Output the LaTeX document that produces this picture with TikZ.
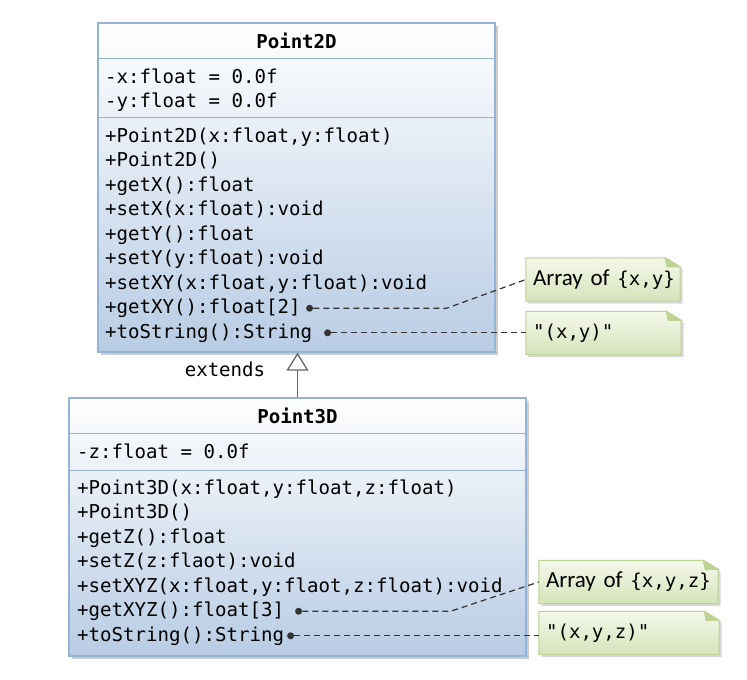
\documentclass[tikz,border=0pt]{standalone}
\usepackage{fontspec}
\setmonofont{DejaVu Sans Mono}
\newfontfamily\notefont{Carlito}
\usetikzlibrary{positioning}
\usetikzlibrary{shadows}
\usetikzlibrary{arrows.meta}
\usetikzlibrary{calc}
\usetikzlibrary{backgrounds}

\definecolor{umlborder}{HTML}{95B3D7}
\definecolor{umlblue}{HTML}{B8CCE4}
\definecolor{notetop}{HTML}{F4F8EA}
\definecolor{notebottom}{HTML}{D6E3BA}
\definecolor{noteborder}{HTML}{BDD293}
\definecolor{linkgray}{HTML}{333333}

\newcommand\umlfont{\ttfamily\fontsize{19.1}{24.5}\selectfont}
\newcommand\drawnote[1]{%
  \path[notepaper] (#1.north west) -- ($(#1.north east)+(-15,0)$)
    -- ($(#1.north east)+(0,9)$) -- (#1.south east) -- (#1.south west) -- cycle;
  \filldraw[notefold] ($(#1.north east)+(-15,0)$) -- ($(#1.north east)+(0,9)$)
    -- ($(#1.north east)+(-13,9)$) -- cycle;
}

\tikzset{
  classbox/.style={draw=umlborder, line width=1.4pt, top color=white,
    bottom color=umlblue, inner sep=0pt,
    drop shadow={shadow xshift=3pt, shadow yshift=-3pt, fill=black!50, opacity=.4}},
  sepline/.style={draw=umlborder, line width=1.4pt},
  member/.style={anchor=base west, inner sep=0pt, font=\umlfont, text=black},
  classname/.style={member, anchor=base, font=\umlfont\bfseries},
  notebox/.style={inner xsep=7pt, inner ysep=0pt, text width=#1, minimum height=43pt,
    align=left, font=\notefont\fontsize{23}{28}\selectfont, text=black},
  notepaper/.style={draw=noteborder, line width=1pt, top color=notetop,
    bottom color=notebottom,
    drop shadow={shadow xshift=2.5pt, shadow yshift=-2.5pt, fill=black!50, opacity=.3}},
  notefold/.style={draw=noteborder, line width=1pt, fill=noteborder},
  dot/.style={circle, fill=linkgray, inner sep=0pt, minimum size=7pt},
  notelink/.style={draw=linkgray, line width=1.2pt, dash pattern=on 6pt off 4pt},
  extendsline/.style={draw=black!60, line width=1.3pt,
    -{Triangle[length=18pt, width=22pt, fill=white]}},
}

\begin{document}
\begin{tikzpicture}[x=1pt, y=-1pt]
  \useasboundingbox (0,0) rectangle (747,680);

  % class Point2D
  \node[classbox, minimum width=397pt, minimum height=329pt] (p2) at (296.5,187.5) {};
  \draw[sepline] ($(p2.north west)+(0,36)$) -- ($(p2.north east)+(0,36)$);
  \draw[sepline] ($(p2.north west)+(0,95)$) -- ($(p2.north east)+(0,95)$);
  \node[classname] (p2name) at ($(p2.north)+(0,26)$) {Point2D};
  \node[member] (pa1) at (105,83) {-x:float = 0.0f};
  \node[member] (pa2) at (105,107.5) {-y:float = 0.0f};
  \foreach \txt [count=\i] in {{+Point2D(x:float,y:float)}, {+Point2D()}, {+getX():float},
      {+setX(x:float):void}, {+getY():float}, {+setY(y:float):void},
      {+setXY(x:float,y:float):void}, {+getXY():float[2]}, {+toString():String}}
    \node[member] (pm\i) at (105,{142+24.5*(\i-1)}) {\txt};

  % class Point3D
  \node[classbox, minimum width=457pt, minimum height=258pt] (p3) at (297.5,527) {};
  \draw[sepline] ($(p3.north west)+(0,36)$) -- ($(p3.north east)+(0,36)$);
  \draw[sepline] ($(p3.north west)+(0,73)$) -- ($(p3.north east)+(0,73)$);
  \node[classname] (p3name) at ($(p3.north)+(0,26)$) {Point3D};
  \node[member] (qa1) at (77,458) {-z:float = 0.0f};
  \foreach \txt [count=\i] in {{+Point3D(x:float,y:float,z:float)}, {+Point3D()},
      {+getZ():float}, {+setZ(z:flaot):void}, {+setXYZ(x:float,y:flaot,z:float):void},
      {+getXYZ():float[3]}, {+toString():String}}
    \node[member] (qm\i) at (77,{494+24.5*(\i-1)}) {\txt};

  % inheritance
  \draw[extendsline] (p3.north) -- (p3.north |- p2.south);
  \node[member, anchor=base] (ext) at (225,376) {extends};

  % notes
  \node[notebox=140pt] (n1) at (603,279.5) {\mbox{Array of {\umlfont\{x,y\}}}};
  \node[notebox=141pt] (n2) at (603.5,333) {\mbox{\umlfont"(x,y)"}};
  \node[notebox=165pt] (n3) at (628.5,582) {\mbox{Array of {\umlfont\{x,y,z\}}}};
  \node[notebox=166pt] (n4) at (629,633) {\mbox{\umlfont"(x,y,z)"}};
  \begin{scope}[on background layer]
    \drawnote{n1}
    \drawnote{n2}
    \drawnote{n3}
    \drawnote{n4}
  \end{scope}

  % links to notes
  \node[dot, right=5pt of pm8] (dxy) {};
  \node[dot, right=11.5pt of pm9] (dstr) {};
  \node[dot, right=10.5pt of qm6] (dxyz) {};
  \node[dot, right=2.5pt of qm7] (dstrz) {};
  \draw[notelink] (dxy) -- ++(137,0) -- (n1.west);
  \draw[notelink] (dstr) -- (dstr -| n2.west);
  \draw[notelink] (dxyz) -- ++(152,0) -- (n3.west);
  \draw[notelink] (dstrz) -- (dstrz -| n4.west);
\end{tikzpicture}
\end{document}
